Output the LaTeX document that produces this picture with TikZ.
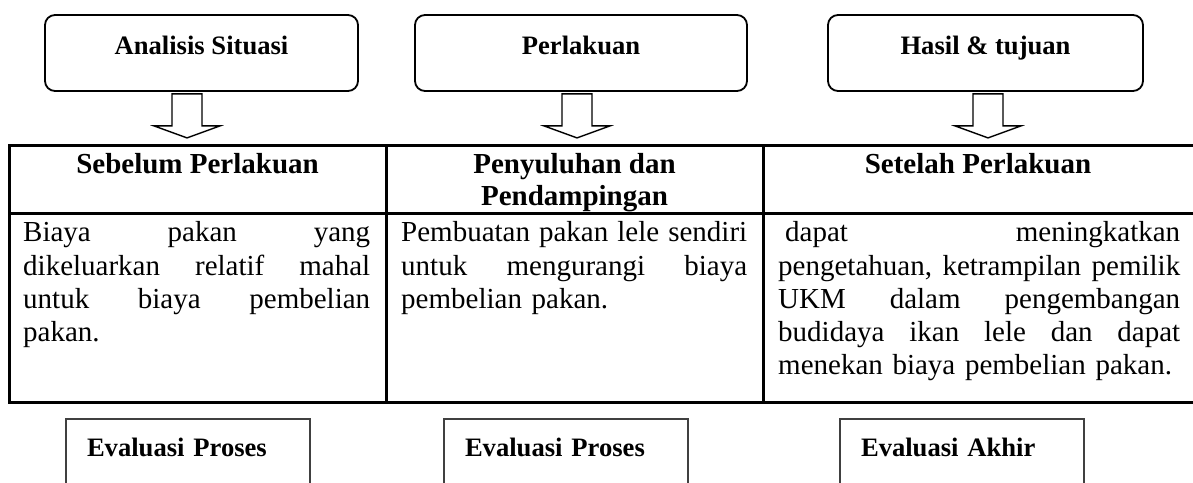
\documentclass[tikz,border=0pt]{standalone}
\usepackage{fontspec}
\setmainfont{Liberation Serif}
\usetikzlibrary{calc}
\begin{document}
\begin{tikzpicture}[x=1pt,y=-1pt,
  topbox/.style={draw, line width=1.8pt, rounded corners=10pt, minimum width=#1,
    minimum height=76pt, inner sep=0pt,
    font=\fontsize{26.6}{30}\selectfont\bfseries, text height=18pt, text depth=16pt},
  blockarrow/.style={draw, line width=1.4pt, line join=miter, fill=white},
  tbl/.style={line width=3pt, line join=miter},
  hdr/.style={inner sep=0pt, font=\fontsize{29}{32}\selectfont\bfseries},
  cell/.style={inner sep=0pt, align=left, font=\fontsize{29}{33.3}\selectfont},
  evbox/.style={draw=black!75, line width=2pt, minimum width=244pt, minimum height=90pt,
    inner xsep=21pt, inner ysep=0pt, text width=202pt, align=left,
    font=\fontsize{26.6}{30}\selectfont\bfseries, text height=18pt, text depth=33.4pt}
]
\clip (0,0) rectangle (1193,482);

% top boxes
\node[topbox=313pt] (b1) at (201.5,53) {Analisis Situasi};
\node[topbox=332pt] (b2) at (581,53) {Perlakuan};
\node[topbox=315pt] (b3) at (985.5,53) {Hasil \& tujuan};

% block arrows
\coordinate (a1) at ($(b1.south)+(-14.5,2)$);
\coordinate (a2) at ($(b2.south)+(-4,2)$);
\coordinate (a3) at ($(b3.south)+(2.5,2)$);
\foreach \a in {a1,a2,a3}{
  \draw[blockarrow] ($(\a)+(-15,0)$) -- ($(\a)+(-15,32)$) -- ($(\a)+(-33,32)$)
    -- ($(\a)+(0,44)$) -- ($(\a)+(33,32)$) -- ($(\a)+(15,32)$) -- ($(\a)+(15,0)$) -- cycle;
}

% table
\draw[tbl] (1200,145) -- (9,145) -- (9,402.5) -- (1200,402.5);
\draw[tbl] (9,213.5) -- (1200,213.5);
\draw[tbl] (386,145) -- (386,402.5);
\draw[tbl] (763,145) -- (763,402.5);

\node[hdr, anchor=base] (h1) at (197.5,173) {Sebelum Perlakuan};
\node[hdr, anchor=base, align=center] (h2) at (574.5,205) {Penyuluhan dan\\Pendampingan};
\node[hdr, anchor=base] (h3) at (978,173) {Setelah Perlakuan};

\node[cell, text width=347pt, anchor=base west] (c1) at (23,241.7)
  {Biaya\hfill pakan\hfill yang\\
   dikeluarkan\hfill relatif\hfill mahal\\
   untuk\hfill biaya\hfill pembelian\\
   pakan.};
\node[cell, text width=346pt, anchor=base west] (c2) at (401,241.7)
  {Pembuatan\hfill pakan\hfill lele\hfill sendiri\\
   untuk\hfill mengurangi\hfill biaya\\
   pembelian pakan.};
\node[cell, text width=402pt, anchor=base west] (c3) at (778,241.7)
  {\hspace*{7pt}dapat\hfill meningkatkan\\
   pengetahuan,\hfill ketrampilan\hfill pemilik\\
   UKM\hfill dalam\hfill pengembangan\\
   budidaya\hfill ikan\hfill lele\hfill dan\hfill dapat\\
   menekan biaya pembelian pakan.};

% evaluation boxes
\node[evbox, anchor=north west] (e1) at (65,417.7) {Evaluasi Proses};
\node[evbox, anchor=north west] (e2) at (443,417.7) {Evaluasi Proses};
\node[evbox, anchor=north west] (e3) at (839,417.7) {Evaluasi Akhir};
\end{tikzpicture}
\end{document}
